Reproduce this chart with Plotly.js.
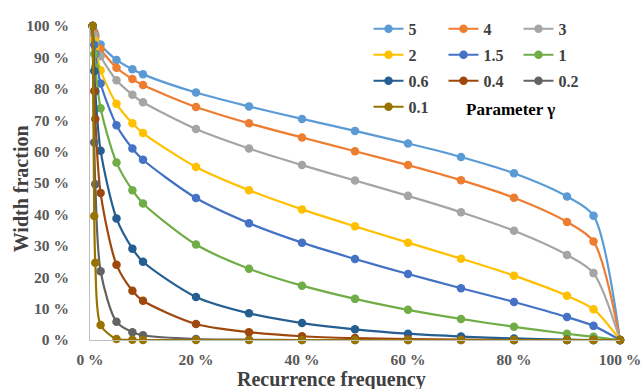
<!DOCTYPE html>
<html>
<head>
<meta charset="utf-8">
<script src="https://cdn.plot.ly/plotly-3.0.1.min.js"></script>
<style>html,body{margin:0;padding:0;background:#fff;}#chart{width:643px;height:389px;}</style>
</head>
<body>
<div id="chart"></div>
<script>
// Recurrence frequency (%)
const freq = [0.5, 0.8, 1, 2, 5, 8, 10, 20, 30, 40, 50, 60, 70, 80, 90, 95, 100];
// Parameter gamma labels
const gammaLabels = ["5", "4", "3", "2", "1.5", "1", "0.6", "0.4", "0.2", "0.1"];
// Width fraction (%) per gamma
const w5   = [100, 98.2, 97.2, 94.1, 89.2, 86.2, 84.6, 78.8, 74.4, 70.4, 66.6, 62.6, 58.3, 53.1, 45.7, 39.6, 0];
const w4   = [100, 97.7, 96.6, 92.7, 86.7, 83.1, 81.2, 74.2, 69.0, 64.5, 60.1, 55.7, 50.9, 45.3, 37.6, 31.4, 0];
const w3   = [100, 97.0, 95.4, 90.4, 82.7, 78.1, 75.7, 67.2, 61.0, 55.7, 50.8, 45.9, 40.7, 34.8, 27.1, 21.3, 0];
const w2   = [100, 95.5, 93.2, 85.9, 75.2, 69.0, 65.9, 55.1, 47.7, 41.6, 36.2, 31.0, 25.9, 20.5, 14.1, 9.8, 0];
const w1_5 = [100, 94.0, 91.1, 81.7, 68.4, 61.0, 57.4, 45.2, 37.2, 31.0, 25.8, 21.0, 16.5, 12.1, 7.3, 4.5, 0];
const w1   = [100, 91.1, 86.9, 73.8, 56.5, 47.7, 43.5, 30.4, 22.7, 17.3, 13.1, 9.6, 6.7, 4.2, 2.0, 1.0, 0];
const w0_6 = [100, 85.7, 79.2, 60.3, 38.7, 29.1, 24.9, 13.7, 8.5, 5.4, 3.4, 2.0, 1.1, 0.5, 0.1, 0.0, 0];
const w0_4 = [100, 79.3, 70.4, 46.8, 24.0, 15.7, 12.5, 5.1, 2.5, 1.2, 0.6, 0.3, 0.1, 0.0, 0.0, 0.0, 0];
const w0_2 = [100, 62.9, 49.6, 21.9, 5.8, 2.5, 1.5, 0.3, 0.1, 0.0, 0.0, 0.0, 0.0, 0.0, 0.0, 0.0, 0];
const w0_1 = [100, 39.5, 24.6, 4.8, 0.3, 0.1, 0.0, 0.0, 0.0, 0.0, 0.0, 0.0, 0.0, 0.0, 0.0, 0.0, 0];
// x tick labels / y tick labels
const xTicks = [0, 20, 40, 60, 80, 100];
const yTicks = [0, 10, 20, 30, 40, 50, 60, 70, 80, 90, 100];

const series = [w5, w4, w3, w2, w1_5, w1, w0_6, w0_4, w0_2, w0_1];
const colors = ["#5B9BD5", "#ED7D31", "#A5A5A5", "#FFC000", "#4472C4", "#70AD47", "#255E91", "#9E480E", "#636363", "#997300"];
const legendOf = ["legend", "legend2", "legend3", "legend", "legend2", "legend3", "legend", "legend2", "legend3", "legend"];

const serif = "Liberation Serif, Times New Roman, serif";

const traces = series.map((ys, i) => ({
  type: "scatter",
  mode: "lines+markers",
  x: freq,
  y: ys,
  name: gammaLabels[i],
  legend: legendOf[i],
  legendgroup: "g" + i,
  line: {color: colors[i], width: 2.2, shape: "spline", smoothing: 0.8},
  marker: {color: colors[i], size: 8.5},
  cliponaxis: false
}));

const legendBase = {
  orientation: "v",
  xanchor: "left",
  yanchor: "top",
  y: 1.045,
  bgcolor: "rgba(0,0,0,0)",
  borderwidth: 0,
  tracegroupgap: 2.2,
  font: {family: serif, size: 16, color: "#404040", weight: "bold"}
};

const layout = {
  width: 643,
  height: 389,
  margin: {l: 90, r: 23, t: 23, b: 49},
  paper_bgcolor: "#fff",
  plot_bgcolor: "#fff",
  showlegend: true,
  legend: Object.assign({}, legendBase, {x: 0.5255}),
  legend2: Object.assign({}, legendBase, {x: 0.667}),
  legend3: Object.assign({}, legendBase, {x: 0.8085}),
  xaxis: {
    range: [0, 100],
    tickvals: xTicks,
    ticktext: xTicks.map(v => v + " %"),
    showgrid: false,
    zeroline: false,
    showline: true,
    linecolor: "#BFBFBF",
    linewidth: 1,
    ticks: "",
    ticklabelstandoff: 5,
    tickfont: {family: serif, size: 15.5, color: "#595959", weight: "bold"}
  },
  yaxis: {
    range: [0, 100],
    tickvals: yTicks,
    ticktext: yTicks.map(v => v + " %"),
    showgrid: false,
    zeroline: false,
    showline: true,
    linecolor: "#BFBFBF",
    linewidth: 1,
    ticks: "",
    ticklabelstandoff: 17,
    tickfont: {family: serif, size: 15.5, color: "#595959", weight: "bold"}
  },
  annotations: [
    {text: "Recurrence frequency", xref: "paper", yref: "paper", x: 0.455, y: 0, yshift: -39,
     xanchor: "center", yanchor: "middle", showarrow: false,
     font: {family: serif, size: 20, color: "#404040", weight: "bold"}},
    {text: "Width fraction", xref: "paper", yref: "paper", x: 0, xshift: -69, y: 0.48,
     xanchor: "center", yanchor: "middle", textangle: -90, showarrow: false,
     font: {family: serif, size: 20, color: "#404040", weight: "bold"}},
    {text: "Parameter γ", xref: "paper", yref: "paper", x: 0.794, y: 0.735,
     xanchor: "center", yanchor: "middle", showarrow: false,
     font: {family: serif, size: 17, color: "#000000", weight: "bold"}}
  ]
};

Plotly.newPlot("chart", traces, layout, {displayModeBar: false, staticPlot: true});
</script>
</body>
</html>
